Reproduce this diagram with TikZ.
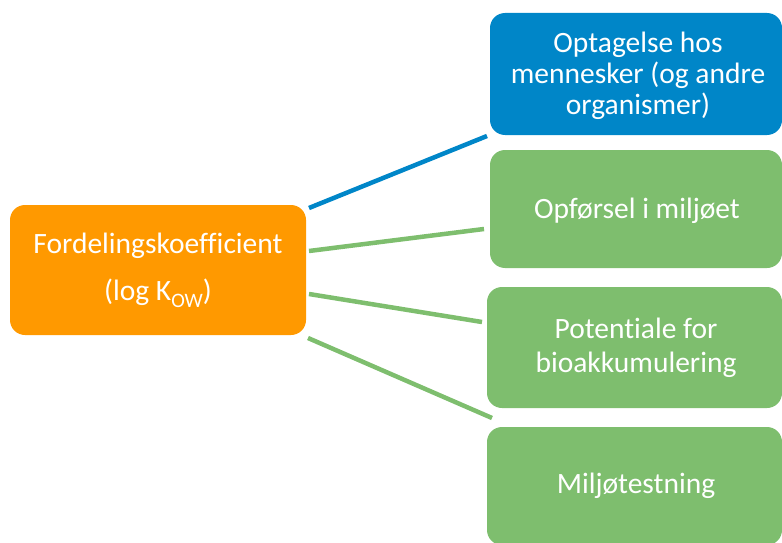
\documentclass[tikz,border=0pt]{standalone}
\usepackage{fontspec}
\setmainfont[Ligatures={NoCommon}]{Carlito}
\definecolor{koworange}{RGB}{255,153,0}
\definecolor{kowblue}{RGB}{0,134,200}
\definecolor{kowgreen}{RGB}{126,190,110}
\newcommand{\kowsub}[1]{\raisebox{-7.5pt}{\fontsize{20.5}{20.5}\selectfont #1}}
\begin{document}
\begin{tikzpicture}[x=1pt,y=-1pt,
  boxtext/.style={text=white, align=center, inner sep=0pt},
  big/.style={font=\fontsize{29.5}{31}\selectfont},
  bigwide/.style={font=\fontsize{29.5}{34}\selectfont},
  link/.style={line width=4.5pt}]
\useasboundingbox (0,0) rectangle (782,543);
% central box
\fill[koworange, rounded corners=15pt] (10,205) rectangle (306,335);
\node[boxtext, big, anchor=base] (kow) at (158,253) {Fordelingskoefficient};
\node[boxtext, big, anchor=base] (kowb) at (158,300) {(log K\kowsub{OW})};
% right-hand boxes
\begin{scope}
\clip (0,0) rectangle (782,543);
\fill[kowblue, rounded corners=15pt] (490,13) rectangle (782,135);
\fill[kowgreen, rounded corners=15pt] (490,150) rectangle (782,268);
\fill[kowgreen, rounded corners=15pt] (487,287) rectangle (782,408);
\fill[kowgreen, rounded corners=15pt] (487,427) rectangle (782,545);
\end{scope}
\node[boxtext, big] (b1) at (638,76) {Optagelse hos\\mennesker (og andre\\organismer)};
\node[boxtext, big, anchor=base] (b2) at (637,218) {Opførsel i miljøet};
\node[boxtext, bigwide] (b3) at (636,348) {Potentiale for\\bioakkumulering};
\node[boxtext, big, anchor=base] (b4) at (636,493) {Miljøtestning};
% connectors
\coordinate (s1) at (309,208); \coordinate (e1) at (487,136);
\coordinate (s2) at (309,251); \coordinate (e2) at (484,229);
\coordinate (s3) at (309,294); \coordinate (e3) at (482,322);
\coordinate (s4) at (308,338); \coordinate (e4) at (492,418);
\draw[link, kowblue] (s1) -- (e1);
\draw[link, kowgreen] (s2) -- (e2);
\draw[link, kowgreen] (s3) -- (e3);
\draw[link, kowgreen] (s4) -- (e4);
\end{tikzpicture}
\end{document}
